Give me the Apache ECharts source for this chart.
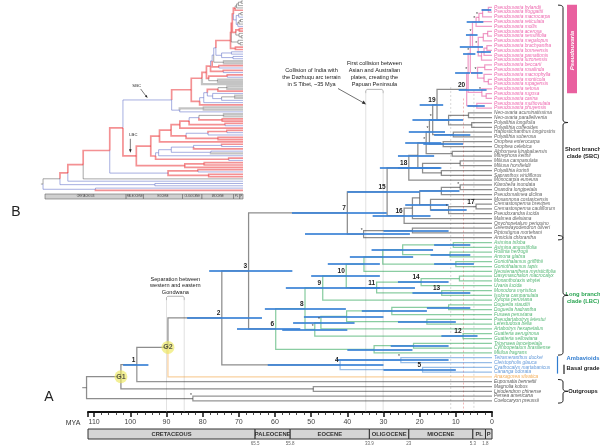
<!DOCTYPE html>
<html><head><meta charset="utf-8">
<script src="https://cdn.jsdelivr.net/npm/echarts@6/dist/echarts.min.js"></script>
<style>html,body{margin:0;padding:0;background:#fff}#c{width:600px;height:447px}</style>
</head><body><div id="c"></div>
<script>
const FONT = 'Liberation Sans, Arial, sans-serif';
const tipNames = [
 'Pseudouvaria hylandii','Pseudouvaria froggattii','Pseudouvaria macrocarpa','Pseudouvaria reticulata','Pseudouvaria mollis',
 'Pseudouvaria acerosa','Pseudouvaria sessilifolia','Pseudouvaria megalopus','Pseudouvaria brachyantha','Pseudouvaria borneensis',
 'Pseudouvaria pamattonis','Pseudouvaria luzonensis','Pseudouvaria beccarii','Pseudouvaria rosalinda','Pseudouvaria macrophylla',
 'Pseudouvaria monticola','Pseudouvaria rupagensis','Pseudouvaria setosa','Pseudouvaria rugosa','Pseudouvaria carina',
 'Pseudouvaria multiovulata','Pseudouvaria phuyensis',
 'Neo-uvaria acuminatissima','Neo-uvaria parallelivenia','Polyalthia longifolia','Polyalthia coffeoides',
 'Haplostichanthus longirostris','Polyalthia suberosa','Orophea enterocarpa','Orophea celebica','Alphonsea kinabaluensis',
 'Mitrephora keithii','Miliusa campanulata','Miliusa horsfieldii','Polyalthia korinti','Sapranthus viridiflorus',
 'Monocarpia euneura','Klarobelia inundata','Oxandra longipetala','Pseudomalmea diclina','Mosannona costaricensis',
 'Cremastosperma brevipes','Cremastosperma cauliflorum','Pseudoxandra lucida','Malmea dielsiana','Onychopetalum periquino',
 'Greenwayodendron oliveri','Piptostigma mortehani','Annickia chlorantha',
 'Asimina triloba','Asimina angustifolia','Rollinia herzogii','Annona glabra','Goniothalamus griffithii','Goniothalamus tapis',
 'Neostenanthera myristicifolia','Dasymaschalon macrocalyx','Monanthotaxis whytei','Uvaria lucida','Monodora myristica',
 'Isolona campanulata','Xylopia peruviana','Duguetia staudtii','Duguetia hadrantha','Fusaea peruviana',
 'Pseudartabotrys letestui','Letestudoxa bella','Artabotrys hexapetalus','Guatteria aeruginosa','Guatteria sellowiana',
 'Trigynaea lanceipetala','Cymbopetalum brasiliense','Mkilua fragrans',
 'Tetrameranthus duckei','Cleistopholis glauca','Cyathocalyx martabanicus','Cananga odorata',
 'Anaxagorea silvatica',
 'Eupomatia bennettii','Magnolia kobus','Liriodendron chinense','Persea americana','Coelocaryon preussii'
];
// P Pseudouvaria, S short branch clade, L long branch clade, A ambavioids, X Anaxagorea, O outgroups
const tipGroups = 'PPPPPPPPPPPPPPPPPPPPPP' + 'SSSSSSSSSSSSSSSSSSSSSSSSSSS' + 'LLLLLLLLLLLLLLLLLLLLLLLL' + 'AAAA' + 'X' + 'OOOOO';

// [id, childA, childB, age (Mya)]
const clades = [
 ['p01',0,1,1.0],['p012','p01',2,2.6],['p0123','p012',3,3.6],['p04','p0123',4,4.4],
 ['p56',5,6,1.2],['p57','p56',7,2.4],['p89',8,9,1.4],['p810','p89',10,2.2],['p811','p810',11,2.9],
 ['p511','p57','p811',3.8],['p011','p04','p511',5.4],['p1213',12,13,2.0],['p1516',15,16,1.0],
 ['p1416',14,'p1516',2.2],['p1216','p1213','p1416',4.0],['p016','p011','p1216',6.0],
 ['p1819',18,19,1.6],['p1719',17,'p1819',2.8],['p019','p016','p1719',6.6],['p2021',20,21,4.2],
 ['n20','p019','p2021',7.0],
 ['NU',22,23,6.5],['PL',24,25,5.6],['NUPL','NU','PL',12.0],['n19','n20','NUPL',15.2],
 ['HS',26,27,10.7],['L1','n19','HS',16.4],['OR',28,29,13.5],['L2','L1','OR',17.3],
 ['AM',30,31,11.0],['L3','L2','AM',18.2],['MI',32,33,8.8],['KS',34,35,14.0],['MKS','MI','KS',19.2],
 ['L4','L3','MKS',20.5],['n18','L4',36,23.0],
 ['KO',37,38,8.8],['KOP','KO',39,14.0],['n17',41,42,4.4],['CPx','n17',43,12.0],['MCP',40,'CPx',17.0],
 ['MM','KOP','MCP',20.0],['MMa','MM',44,22.0],['n16','MMa',45,24.3],['n15','n18','n16',29.0],
 ['GP',46,47,22.0],['PA','GP',48,35.5],['n7','n15','PA',40.0],
 ['AA',49,50,10.7],['RA',51,52,11.6],['AN','AA','RA',24.7],['GO',53,54,10.0],['AG','AN','GO',30.2],
 ['AGN','AG',55,35.4],['DM',56,57,9.0],['n14','DM',58,19.6],['n13',59,60,13.9],['n11','n14','n13',31.9],
 ['n10','AGN','n11',40.3],['n9','n10',61,46.8],['DU',62,63,12.0],['DF','DU',64,27.7],['PLb',65,66,18.0],
 ['DFP','DF','PLb',40.2],['DFPA','DFP',67,47.3],['n12',68,69,8.0],['X8','DFPA','n12',49.0],
 ['n8','n9','X8',51.7],['TC',70,71,21.7],['TCM','TC',72,32.6],['n6','n8','TCM',59.8],
 ['TCl',73,74,25.2],['n5',75,76,19.2],['n4','TCl','n5',42.0],
 ['n3','n7','n6',67.3],['n2','n3','n4',74.7],['G2','n2',77,89.6],['n1','G2',78,98.2],
 ['ML',79,80,49.4],['G1','n1','ML',102.6],['PC',81,82,82.7],['root','G1','PC',112.1]
];
// 95% HPD bars: node, oldest, youngest
const hpdNodes = ['n1','n2','n3','n4','TCl','n5','n6','n7','n8','n9','n10','n11','AGN','AG','AN','n14','n13','DF','DFP','DFPA','X8','n12','TCM','TC','n15','n16','n18','L4','L3','L2','L1','n19','NUPL','PA','GP','KOP','MCP','n20','p019','p016','p011','p1216','p511','p2021','HS','OR','MKS','CPx','DU','PLb','GO','RA','AA','p01','p04','p810'];
const hpdOld   = [102,84.3,78.2,62,43,30,70.5,55.3,62.8,57,50,39.3,45.4,39.3,33.3,26,22,36,52,55,58,14,40,28,40,33,31,26,24,23,22,20,17,51.7,30,20,24,9.2,10.2,8.0,7.2,5.8,8.9,6.8,16,19,26,17,18,26,16,17,16,2.9,7.0,4.2];
const hpdYoung = [95,63.6,55.2,30,12,10,53,29.1,40.4,31,31,21.3,31,21.8,16.3,12,6,18,30,38,40,4,22,12,20,17,14.4,16,14,13,12,13.5,8,22.7,12,9,12,1.5,6.1,4.6,4.0,2.6,2.5,2.0,6,8,14,7,6,10,5,6,6,0.2,2.4,0.3];
// numbered nodes and asterisks
const tagNodes = ['n1','n2','n3','n4','n5','n6','n7','n8','n9','n10','n11','n12','n13','n14','n15','n16','n17','n18','n19','n20'];
const tagTexts = ['1','2','3','4','5','6','7','8','9','10','11','12','13','14','15','16','17','18','19','20'];
const starNodes = ['p0123','p04','p511','p011','p1216','p016','p019','p1719','L1','L2','L3','KO','PA','TCl','DFPA','X8','PC','CPx'];
const calibNodes = ['G1','G2'];
// inset (B) branch colours: red, blue, grey, default black
const insetRed = ['n1','G2','n2','n3','n6','n8','n9','TCM','TC',70,71,72,'n15','n18','L4','L3','n5',75,76,82,'RA',51,52,'AG','n10','AGN',55,'n11','n13',59,60,61,'n12',68,'n20','p019','p016','p2021',20,21,'p1216','p1213',12,13,'p011','p04',4,'MKS','MI',32,'AM',30,'OR',28,'KOP',39,'n16',45,'TCl',73,'DM',56,'GO',53,62,64,'X8'];
const insetBlue = ['ML',79,80,78,'PC',81,'n4','n7','PA','MMa','MM','MCP','CPx','DFP','DF','PLb','DU','DFPA',67,'NUPL','NU',22,23,'PL',24,25,'p511','p57','p811',7,11,'L1','L2','n19',74,48,44,40,43,'n14',58,57,'AN',54,63,65,69,29,31,33];
const insetGrey = ['GP',46,47,49,50,26,27,34,35,36,37,38,41,42,66];
// geological time scale
const periodNames = ['CRETACEOUS','PALEOCENE','EOCENE','OLIGOCENE','MIOCENE','PL','P'];
const periodStart = [111.7,65.5,55.8,33.9,23,5.3,1.8];
const periodEnd   = [65.5,55.8,33.9,23,5.3,1.8,0];
const boundaryAges = [65.5,55.8,33.9,23,5.3,1.8];
const boundaryTexts = ['65.5','55.8','33.9','23','5.3','1.8'];
// event lines: age, top (tip index), style
const eventAges = [90.0,85.1,34.9,30.1,11.4,7.9,5.0];
const eventTops = [61.0,61.0,17.9,17.9,16.6,19.0,17.2];
const eventKinds = ['s','s','s','s','d','r','d'];
// right-hand clade braces: first tip, last tip
const braceFrom = [0,48,78];
const braceTo = [48,72,82];

// ---------- layout ----------
const N = {};
tipNames.forEach((n,i)=>{ N[i] = {y:i, age:0, tips:[i], tip:true}; });
clades.forEach(([id,a,b,age])=>{ N[id] = {y:(N[a].y+N[b].y)/2, age, a, b, tips:N[a].tips.concat(N[b].tips)}; });
function grp(id){ const t = N[id].tips; const g = tipGroups[t[0]]; return t.every(i=>tipGroups[i]===g) ? g : 'M'; }
const GC = {P:'#e23b8f',S:'#1b1b1b',L:'#169b46',A:'#2f7cd0',X:'#f3a23e',O:'#2b2b2b',M:'#1b1b1b'};
const TC = {P:'#e8409a',S:'#3a3a3a',L:'#2aa552',A:'#3a7ecf',X:'#f09a30',O:'#2e2e2e'};
const mainSegs = [], insetSegs = [];
const inRed = new Set(insetRed.map(String)), inBlue = new Set(insetBlue.map(String)), inGrey = new Set(insetGrey.map(String));
clades.forEach(([id,a,b])=>{
  const c = N[id];
  [a,b].forEach(k=>{
    const ch = N[k];
    let col;
    if (ch.tip) col = GC[tipGroups[k]];
    else { const g = grp(id); col = g==='M' ? GC.M : GC[g]; }
    const coords = [[c.age,c.y],[c.age,ch.y],[ch.age,ch.y]];
    mainSegs.push({coords, lineStyle:{color:col}});
    const key = String(k);
    let ic = '#222', w = 0.8;
    if (inRed.has(key)) { ic = '#ea2428'; w = 1.7; }
    else if (inBlue.has(key)) { ic = '#4f5fc4'; w = 1.0; }
    else if (inGrey.has(key)) { ic = '#8a8a8a'; w = 2.2; }
    insetSegs.push({coords, lineStyle:{color:ic, width:w}});
  });
});
const R = N.root;
mainSegs.push({coords:[[R.age,R.y],[R.age+1.2,R.y]], lineStyle:{color:'#333'}});
insetSegs.push({coords:[[R.age,R.y],[R.age+1.2,R.y]], lineStyle:{color:'#222', width:0.8}});
const hpdData = hpdNodes.map((id,i)=>({coords:[[hpdOld[i],N[id].y],[hpdYoung[i],N[id].y]]}));
const AXISY = 84.31;
const eventData = eventAges.map((a,i)=>({coords:[[a,eventTops[i]],[a,AXISY]],
  lineStyle: eventKinds[i]==='s' ? {color:'#b5b5b5', width:0.8, type:'solid'} :
             eventKinds[i]==='r' ? {color:'#e05050', width:0.8, type:[2,2]} : {color:'#a0a0a0', width:0.8, type:[2,2]}}));
function bracket(a1,a2,top){ return {coords:[[a1,top+0.8],[a1,top+0.25],[a1-0.35,top],[a2+0.35,top],[a2,top+0.25],[a2,top+0.8]]}; }
const bracketData = [bracket(eventAges[0],eventAges[1],eventTops[0]-0.8), bracket(eventAges[2],eventAges[3],eventTops[2]-0.8)];
const tipData = tipNames.map((n,i)=>({value:[0,i], name:n, label:{color:TC[tipGroups[i]]}}));
const tagData = tagNodes.map((id,i)=>[N[id].age, N[id].y, tagTexts[i]]);
const starData = starNodes.map(id=>[N[id].age, N[id].y]);
const calibData = calibNodes.map(id=>({value:[N[id].age, N[id].y], name:id}));
const periodData = periodNames.map((n,i)=>[periodStart[i], periodEnd[i], i]);
const boundaryData = boundaryAges.map((a,i)=>[a, 0, i]);
const braceData = braceFrom.map((f,i)=>[0, f, braceTo[i]]);

function bracePath(x, y1, y2, w){ const m=(y1+y2)/2, r=2.5;
  return `M${x-w} ${y1} Q${x} ${y1} ${x} ${y1+r} L${x} ${m-r} Q${x} ${m} ${x+w} ${m} Q${x} ${m} ${x} ${m+r} L${x} ${y2-r} Q${x} ${y2} ${x-w} ${y2}`; }

const chart = echarts.init(document.getElementById('c'), null, {width:600, height:447});
const option = {
  animation:false,
  backgroundColor:'#fff',
  grid:[{left:88, width:404, top:0, height:412, outerBoundsMode:'none'},
        {left:45, width:198, top:0, height:192, outerBoundsMode:'none'}],
  xAxis:[{type:'value', min:0, max:111.7, inverse:true, interval:10, gridIndex:0,
          axisLine:{show:true, onZero:false, lineStyle:{color:'#111', width:2}},
          axisTick:{show:true, length:5, lineStyle:{color:'#111', width:1.5}},
          minorTick:{show:true, splitNumber:5, length:3, lineStyle:{color:'#222', width:0.8}},
          splitLine:{show:false},
          axisLabel:{margin:7, fontSize:7, color:'#444', fontFamily:FONT,
                     formatter:v=> (Math.abs(v/10-Math.round(v/10))<1e-6 ? String(Math.round(v)) : '')}},
         {type:'value', min:0, max:111, inverse:true, gridIndex:1, show:false}],
  yAxis:[{type:'value', min:-1.52, max:AXISY, inverse:true, gridIndex:0, show:false},
         {type:'value', min:-0.43, max:82.68, inverse:true, gridIndex:1, show:false}],
  series:[
    {type:'lines', coordinateSystem:'cartesian2d', xAxisIndex:0, yAxisIndex:0, polyline:true, clip:false,
     data:eventData, z:1, silent:true},
    {type:'lines', coordinateSystem:'cartesian2d', xAxisIndex:0, yAxisIndex:0, polyline:true, clip:false,
     data:bracketData, lineStyle:{color:'#444', width:0.8}, z:1, silent:true},
    {type:'lines', coordinateSystem:'cartesian2d', xAxisIndex:0, yAxisIndex:0, polyline:true, clip:false,
     data:mainSegs, lineStyle:{width:1.25}, z:3, silent:true},
    {type:'lines', coordinateSystem:'cartesian2d', xAxisIndex:0, yAxisIndex:0, polyline:false, clip:false,
     data:hpdData, lineStyle:{color:'#3b82d6', width:2, opacity:0.85}, z:4, silent:true},
    {type:'scatter', xAxisIndex:0, yAxisIndex:0, symbolSize:0, data:tipData, z:5, silent:true, clip:false,
     label:{show:true, position:'right', distance:2, formatter:p=>p.name, fontSize:4.8, fontStyle:'italic', fontFamily:FONT}},
    {type:'custom', xAxisIndex:0, yAxisIndex:0, data:tagData, z:6, silent:true, clip:false,
     renderItem:(p,api)=>{ const pt = api.coord([api.value(0),api.value(1)]);
       return {type:'text', style:{text:tagData[p.dataIndex][2], x:pt[0]-1.5, y:pt[1]-1, align:'right', verticalAlign:'bottom',
         font:'bold 6.5px '+FONT, fill:'#222'}}; }},
    {type:'custom', xAxisIndex:0, yAxisIndex:0, data:starData, z:6, silent:true, clip:false,
     renderItem:(p,api)=>{ const pt = api.coord([api.value(0),api.value(1)]);
       return {type:'text', style:{text:'*', x:pt[0]-1, y:pt[1]-0.5, align:'right', verticalAlign:'bottom',
         font:'5px '+FONT, fill:'#333'}}; }},
    {type:'scatter', xAxisIndex:0, yAxisIndex:0, data:calibData, symbolSize:13, z:7, silent:true,
     itemStyle:{color:'rgba(236,232,90,0.8)'},
     label:{show:true, position:'inside', formatter:p=>p.name, fontSize:7, fontWeight:'bold', color:'#333', fontFamily:FONT}},
    {type:'custom', xAxisIndex:0, yAxisIndex:0, data:periodData, z:2, silent:true, clip:false,
     renderItem:(p,api)=>{ const x1 = api.coord([api.value(0),0])[0], x2 = api.coord([api.value(1),0])[0];
       return {type:'group', children:[
         {type:'rect', shape:{x:x1, y:429, width:x2-x1, height:10}, style:{fill:'#d5d5d5', stroke:'#333', lineWidth:1}},
         {type:'text', style:{text:periodNames[p.dataIndex], x:(x1+x2)/2, y:434.5, align:'center', verticalAlign:'middle',
           font:'bold 5.8px '+FONT, fill:'#333'}}]}; }},
    {type:'custom', xAxisIndex:0, yAxisIndex:0, data:boundaryData, z:2, silent:true, clip:false,
     renderItem:(p,api)=>{ const x = api.coord([api.value(0),0])[0];
       return {type:'text', style:{text:boundaryTexts[p.dataIndex], x:x, y:444, align:'center', verticalAlign:'middle',
         font:'4.5px '+FONT, fill:'#666'}}; }},
    {type:'custom', xAxisIndex:0, yAxisIndex:0, data:braceData, z:2, silent:true, clip:false,
     renderItem:(p,api)=>{ const y1 = api.coord([0,api.value(1)])[1]-2.2, y2 = api.coord([0,api.value(2)])[1]+2.2;
       return {type:'path', shape:{pathData:bracePath(563, y1, y2, 5)}, style:{stroke:'#222', fill:'none', lineWidth:1}}; }},
    {type:'lines', coordinateSystem:'cartesian2d', xAxisIndex:1, yAxisIndex:1, polyline:true, clip:false,
     data:insetSegs, z:3, silent:true},
    {type:'custom', xAxisIndex:1, yAxisIndex:1, data:periodData, z:2, silent:true, clip:false,
     renderItem:(p,api)=>{ const x1 = api.coord([Math.min(api.value(0),111),0])[0], x2 = api.coord([api.value(1),0])[0];
       return {type:'group', children:[
         {type:'rect', shape:{x:x1, y:194, width:x2-x1, height:5}, style:{fill:'#d0d0d0', stroke:'#666', lineWidth:0.6}},
         {type:'text', style:{text:periodNames[p.dataIndex], x:(x1+x2)/2, y:196.6, align:'center', verticalAlign:'middle',
           font:'2.6px '+FONT, fill:'#444'}}]}; }}
  ]
};
chart.setOption(option);

// ---------- annotations placed from tip positions ----------
const px = (a,i)=>chart.convertToPixel({gridIndex:0},[a,i]);
const pxB = (a,i)=>chart.convertToPixel({gridIndex:1},[a,i]);
const yT = i=>px(0,i)[1];
const g = [];
const txt = (t,x,y,opt)=>g.push({type:'text', silent:true, style:Object.assign({text:t, x, y, align:'center', verticalAlign:'middle', font:'5.6px '+FONT, fill:'#222'}, opt||{})});
const gx = (px(eventAges[0],0)[0]+px(eventAges[1],0)[0])/2;
txt('Separation between', gx, 279); txt('western and eastern', gx, 285.8); txt('Gondwana', gx, 292.6);
const cx = (px(eventAges[2],0)[0]+px(eventAges[3],0)[0])/2;
txt('First collision between', cx, 63.5); txt('Asian and Australian', cx, 70.6); txt('plates, creating the', cx, 77.7); txt('Papuan Peninsula', cx, 84.8);
txt('Collision of India with', 311.5, 70.6); txt('the Dazhuqu arc terrain', 311.5, 77.7); txt('in S Tibet, ~35 Mya', 311.5, 84.8);
const ax = px(eventAges[2],0)[0];
g.push({type:'line', silent:true, shape:{x1:338, y1:88.5, x2:ax-1, y2:103.5}, style:{stroke:'#333', lineWidth:0.7}});
g.push({type:'polygon', silent:true, shape:{points:[[ax+0.5,104.5],[ax-4,103.6],[ax-2.2,100.6]]}, style:{fill:'#333'}});
g.push({type:'rect', silent:true, shape:{x:567, y:yT(0)-2.5, width:10, height:yT(18)-yT(0)+2}, style:{fill:'#e9609f'}});
g.push({type:'text', silent:true, rotation:Math.PI/2, x:572, y:(yT(0)+yT(18))/2, style:{text:'Pseudouvaria', x:0, y:0, align:'center', verticalAlign:'middle', font:'italic bold 6px '+FONT, fill:'#fff'}});
g.push({type:'line', silent:true, shape:{x1:557.5, y1:yT(73)-1.5, x2:557.5, y2:yT(76)+1.5}, style:{stroke:'#2f7cd0', lineWidth:1.2}});
g.push({type:'line', silent:true, shape:{x1:564, y1:yT(75)-2.5, x2:564, y2:yT(76)+2}, style:{stroke:'#222', lineWidth:1.2}});
const bold = {font:'bold 5.8px '+FONT};
txt('Short branch', 583, (yT(0)+yT(48))/2+27, bold); txt('clade (SBC)', 583, (yT(0)+yT(48))/2+34, bold);
txt('Long branch', 583, yT(59)+4, Object.assign({fill:'#2aa552'},bold)); txt('clade (LBC)', 583, yT(59)+11, Object.assign({fill:'#2aa552'},bold));
txt('Ambavioids', 583, yT(73)+0.5, Object.assign({fill:'#2f7cd0'},bold));
txt('Basal grade', 583, yT(75)+1, bold);
txt('Outgroups', 583, yT(80), bold);
txt('MYA', 73, 423, {font:'7px '+FONT, fill:'#333'});
txt('A', 49, 397, {font:'14px '+FONT, fill:'#222'});
txt('B', 16, 212, {font:'14px '+FONT, fill:'#222'});
const s7 = pxB(N.n7.age, N.n7.y), l6 = pxB(N.n6.age, N.n6.y);
txt('SBC', s7[0]-35, s7[1]-14, {font:'4.2px '+FONT});
g.push({type:'line', silent:true, shape:{x1:s7[0]-31, y1:s7[1]-11, x2:s7[0]-25, y2:s7[1]-3}, style:{stroke:'#222', lineWidth:0.6}});
g.push({type:'polygon', silent:true, shape:{points:[[s7[0]-24,s7[1]-2],[s7[0]-26.8,s7[1]-3.8],[s7[0]-25,s7[1]-5]]}, style:{fill:'#222'}});
txt('LBC', l6[0]-3, l6[1]-21, {font:'4.2px '+FONT});
g.push({type:'line', silent:true, shape:{x1:l6[0]-6, y1:l6[1]-17, x2:l6[0]-6, y2:l6[1]-5}, style:{stroke:'#222', lineWidth:0.6}});
g.push({type:'polygon', silent:true, shape:{points:[[l6[0]-6,l6[1]-3],[l6[0]-7.3,l6[1]-6.5],[l6[0]-4.7,l6[1]-6.5]]}, style:{fill:'#222'}});
chart.setOption({graphic:{elements:g}});
</script></body></html>
